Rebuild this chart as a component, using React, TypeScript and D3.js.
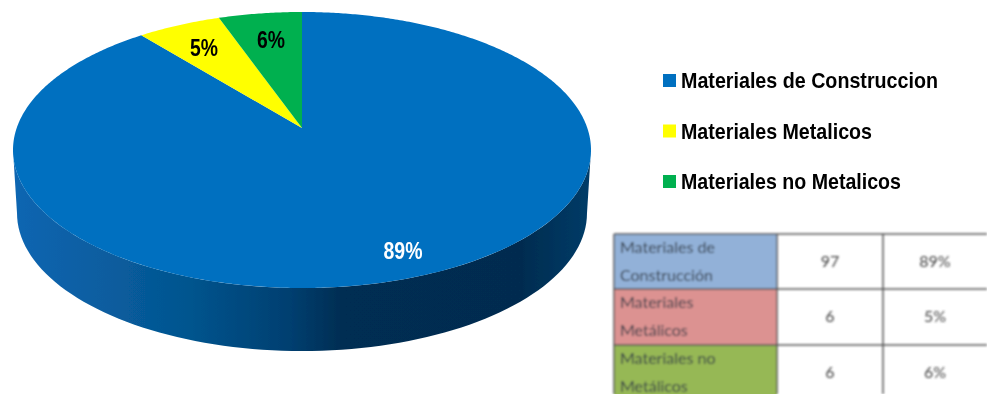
import React from "react";
import * as d3 from "d3";

const categories = ["Materiales de Construccion", "Materiales Metalicos", "Materiales no Metalicos"];
const counts = [97, 6, 6];
const sliceLabels = ["89%", "5%", "6%"];
const sliceColors = ["#0070c0", "#ffff00", "#00b050"];
const tableNames = [["Materiales de", "Construcción"], ["Materiales", "Metálicos"], ["Materiales no", "Metálicos"]];
const tablePercents = ["89%", "5%", "6%"];
const tableFills = ["#92b1d8", "#dc9291", "#96b855"];

const W = 987, H = 394;
const cx = 302, cy = 150, rx = 289, ry = 138;
const apexY = 128;
const depth = 63;

// Ray from the off-centre apex at a pie angle, cut against the top ellipse.
function rim(a: number): [number, number] {
  const dx = Math.sin(a) * rx, dy = -Math.cos(a) * ry, oy = apexY - cy;
  const A = (dx * dx) / (rx * rx) + (dy * dy) / (ry * ry);
  const B = (2 * oy * dy) / (ry * ry);
  const C = (oy * oy) / (ry * ry) - 1;
  const t = (-B + Math.sqrt(B * B - 4 * A * C)) / (2 * A);
  return [cx + dx * t, apexY + dy * t];
}

// The slices run clockwise from 12 o'clock; the last one ends at the top.
const arcs = d3.pie<number>().sort(null)(counts);
const line = d3.line();

function slicePath(i: number) {
  const { startAngle: a0, endAngle: a1 } = arcs[i];
  const n = Math.max(4, Math.ceil((a1 - a0) / 0.01));
  const pts: [number, number][] = [[cx, apexY]];
  d3.range(n + 1).forEach((k) => pts.push(rim(a0 + ((a1 - a0) * k) / n)));
  return line(pts) + "Z";
}

const sidePath = (() => {
  const botRx = rx - 4;
  const ts = d3.range(0, 181, 2).map((d) => (d * Math.PI) / 180);
  const bottom = ts.map((t) => [cx + botRx * Math.cos(t), cy + depth + ry * Math.sin(t)] as [number, number]);
  const top = ts.map((t) => [cx + rx * Math.cos(t), cy + ry * Math.sin(t)] as [number, number]);
  return line([[cx + rx, cy], ...bottom, [cx - rx, cy], ...top.reverse()]) + "Z";
})();

const legendY = d3.scalePoint<string>().domain(categories).range([80.5, 181.5]);
const rowY = [234, 289, 345, 400];
const colX = [614, 777, 883, 987];

export default function App() {
  return (
    <svg width={W} height={H} viewBox={`0 0 ${W} ${H}`} style={{ position: "absolute", left: 0, top: 0, background: "#fff" }}>
      <defs>
        <linearGradient id="side" gradientUnits="userSpaceOnUse" x1={13} x2={591} y1={0} y2={0}>
          <stop offset="0" stopColor="#0d66b2" />
          <stop offset="0.3" stopColor="#04558f" />
          <stop offset="0.48" stopColor="#003f70" />
          <stop offset="0.57" stopColor="#002d52" />
          <stop offset="0.88" stopColor="#022c50" />
          <stop offset="1" stopColor="#063c68" />
        </linearGradient>
        <filter id="soft" x="-5%" y="-5%" width="110%" height="110%"><feGaussianBlur stdDeviation="0.7" /></filter>
        <filter id="soft2" x="-5%" y="-20%" width="110%" height="140%"><feGaussianBlur stdDeviation="0.4" /></filter>
        <filter id="softer" x="-5%" y="-20%" width="110%" height="140%"><feGaussianBlur stdDeviation="0.85" /></filter>
      </defs>

      <g filter="url(#soft)">
        <path d={sidePath} fill="url(#side)" />
        {categories.map((c, i) => <path key={c} d={slicePath(i)} fill={sliceColors[i]} />)}
      </g>

      <g filter="url(#soft2)">
        <g fontFamily="'Liberation Sans', Arial, sans-serif" fontWeight="700" fontSize={23} textAnchor="middle">
          <text x={403} y={259} fill="#fff" textLength={39} lengthAdjust="spacingAndGlyphs">{sliceLabels[0]}</text>
          <text x={204} y={56} fill="#000" textLength={28} lengthAdjust="spacingAndGlyphs">{sliceLabels[1]}</text>
          <text x={271} y={48} fill="#000" textLength={28} lengthAdjust="spacingAndGlyphs">{sliceLabels[2]}</text>
        </g>
        {categories.map((c, i) => {
          const y = legendY(c)!;
          return (
            <g key={c}>
              <rect x={663} y={y - 6.5} width={13} height={13} fill={sliceColors[i]} />
              <text x={681} y={y + 7.5} fontFamily="'Liberation Sans', Arial, sans-serif" fontWeight="700" fontSize={22}
                fill="#000" textLength={[257, 191, 220][i]} lengthAdjust="spacingAndGlyphs">{c}</text>
            </g>
          );
        })}
      </g>

      <g filter="url(#softer)">
        {tableNames.map((_, i) => (
          <rect key={i} x={colX[0]} y={rowY[i]} width={colX[1] - colX[0]} height={rowY[i + 1] - rowY[i]} fill={tableFills[i]} />
        ))}
        {rowY.slice(0, 3).map((y) => <line key={y} x1={colX[0]} x2={W} y1={y} y2={y} stroke="#555" strokeWidth={1.5} />)}
        {colX.slice(0, 3).map((x) => <line key={x} x1={x} x2={x} y1={rowY[0]} y2={H} stroke="#555" strokeWidth={1.5} />)}
        <g fontFamily="Lato, 'Open Sans', sans-serif" fontSize={16} fill="#444">
          {tableNames.map((lines, i) => (
            <g key={i}>
              <text x={620} y={rowY[i] + 19} fill="#333d48">{lines[0]}</text>
              <text x={620} y={rowY[i] + 47} fill="#333d48">{lines[1]}</text>
              <text x={(colX[1] + colX[2]) / 2} y={(rowY[i] + rowY[i + 1]) / 2 + 5} textAnchor="middle">{counts[i]}</text>
              <text x={(colX[2] + colX[3]) / 2} y={(rowY[i] + rowY[i + 1]) / 2 + 5} textAnchor="middle">{tablePercents[i]}</text>
            </g>
          ))}
        </g>
      </g>
    </svg>
  );
}
